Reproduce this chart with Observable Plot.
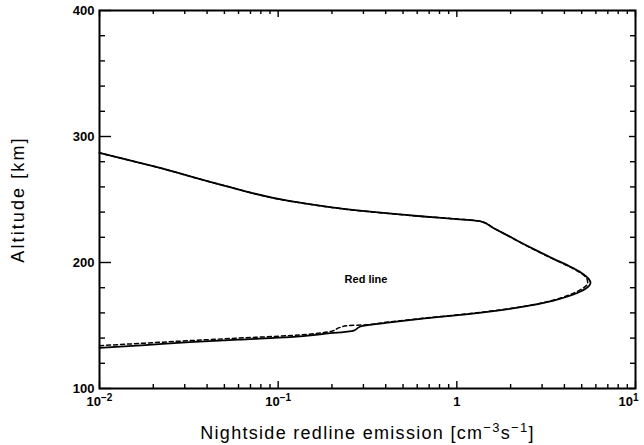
<!DOCTYPE html>
<html>
<head>
<meta charset="utf-8">
<script src="https://cdn.jsdelivr.net/npm/d3@7"></script>
<script src="https://cdn.jsdelivr.net/npm/@observablehq/plot@0.6"></script>
<style>
  html, body { margin: 0; padding: 0; background: #fff; }
  svg { display: block; }
  .xlab text { letter-spacing: 1.3px; }
  .ylab text { letter-spacing: 2.1px; }
</style>
</head>
<body>
<div id="chart"></div>
<script>
// Solid profile (lower branch up to peak, then upper branch)
const solidAltitude = [132.3, 134.5, 136.8, 138.8, 140.7, 143.3, 146.0, 149.2, 152.0, 155.3, 159.3, 164.5, 169.8, 174.6, 179.1, 183.9, 187.0, 192.3, 197.5, 202.9, 210.0, 217.5, 220.2, 222.7, 227.4, 232.7, 234.5, 236.5, 241.3, 248.7, 261.1, 275.6, 287.0];
const solidEmission = [0.01, 0.018, 0.032, 0.06, 0.117, 0.18, 0.265, 0.289, 0.4, 0.625, 1.19, 2.27, 3.48, 4.5, 5.25, 5.6, 5.47, 4.92, 4.2, 3.48, 2.75, 2.17, 2.0, 1.85, 1.6, 1.36, 1.0, 0.65, 0.277, 0.117, 0.0497, 0.021, 0.01];
// Dashed profile
const dashedAltitude = [134.0, 136.0, 138.0, 140.0, 142.0, 145.5, 148.5, 150.0, 150.4, 152.5, 155.5, 159.5, 164.5, 169.5, 174.5, 179.0, 183.5, 187.0, 192.3, 197.5, 202.9, 210.0, 217.5, 220.2, 222.7, 227.4, 232.7, 234.5, 236.5, 241.3, 248.7, 261.1, 275.6, 287.0];
const dashedEmission = [0.01, 0.018, 0.032, 0.06, 0.117, 0.2, 0.222, 0.25, 0.3, 0.4, 0.625, 1.19, 2.22, 3.35, 4.3, 5.0, 5.4, 5.35, 4.85, 4.15, 3.45, 2.73, 2.16, 2.0, 1.85, 1.6, 1.36, 1.0, 0.65, 0.277, 0.117, 0.0497, 0.021, 0.01];

const xMajorTicks = [0.01, 0.1, 1, 10];
const xTickBase = ["10", "10", "1", "10"];
const xTickExp = ["\u22122", "\u22121", "", "1"];
const xMinorTicks = [2,3,4,5,6,7,8,9].flatMap(m => [0.01, 0.1, 1].map(d => m * d));
const yMajorTicks = [100, 200, 300, 400];
const yMinorTicks = [120, 140, 160, 180, 220, 240, 260, 280, 320, 340, 360, 380];
const annotation = [{x: 0.31, y: 186.5, text: "Red line"}];
const xLabelParts = ["Nightside redline emission [cm", "\u22123", "s", "\u22121", "]"];
const yLabel = "Altitude [km]";

const solid = solidAltitude.map((a, i) => ({alt: a, em: solidEmission[i]}));
const dashed = dashedAltitude.map((a, i) => ({alt: a, em: dashedEmission[i]}));

const W = 644, H = 445;
const mL = 99, mR = 9, mT = 10, mB = 57;
const pw = W - mL - mR, ph = H - mT - mB;
const font = "'Liberation Sans', Arial, Helvetica, sans-serif";

const chart = Plot.plot({
  width: W, height: H,
  marginLeft: mL, marginRight: mR, marginTop: mT, marginBottom: mB,
  style: {fontFamily: font, fontSize: "13px", color: "#000", background: "#fff"},
  x: {type: "log", domain: [0.01, 10]},
  y: {domain: [100, 400]},
  marks: [
    Plot.tickX(xMajorTicks, {x: d => d, insetTop: ph - 7, stroke: "#000", strokeWidth: 1.4}),
    Plot.tickX(xMinorTicks, {x: d => d, insetTop: ph - 4, stroke: "#000", strokeWidth: 1.4}),
    Plot.tickX(xMajorTicks, {x: d => d, insetBottom: ph - 7, stroke: "#000", strokeWidth: 1.4}),
    Plot.tickX(xMinorTicks, {x: d => d, insetBottom: ph - 4, stroke: "#000", strokeWidth: 1.4}),
    Plot.tickY(yMajorTicks, {y: d => d, insetRight: pw - 12, stroke: "#000", strokeWidth: 1.4}),
    Plot.tickY(yMinorTicks, {y: d => d, insetRight: pw - 6, stroke: "#000", strokeWidth: 1.4}),
    Plot.tickY(yMajorTicks, {y: d => d, insetLeft: pw - 6, stroke: "#000", strokeWidth: 1.4}),
    Plot.tickY(yMinorTicks, {y: d => d, insetLeft: pw - 5, stroke: "#000", strokeWidth: 1.4}),
    Plot.line(dashed, {x: "em", y: "alt", stroke: "#000", strokeWidth: 1.5, strokeDasharray: "4,3", curve: "monotone-y"}),
    Plot.line(solid, {x: "em", y: "alt", stroke: "#000", strokeWidth: 1.8, curve: "monotone-y"}),
    Plot.frame({stroke: "#000", strokeWidth: 2}),
    Plot.axisX({ticks: xMajorTicks, tickSize: 0, tickPadding: 8, tickFormat: d => String(xMajorTicks.indexOf(d)), fontWeight: "bold", fontSize: 13, label: null, className: "xticks"}),
    Plot.axisY({ticks: yMajorTicks, tickSize: 0, tickPadding: 5, fontWeight: "bold", fontSize: 13, label: null}),
    Plot.text([xLabelParts.join("")], {text: d => d, frameAnchor: "bottom", dy: 45, fontSize: 18, lineAnchor: "middle", fill: "#000", className: "xlab"}),
    Plot.text([yLabel], {text: d => d, frameAnchor: "left", textAnchor: "middle", dx: -81, rotate: -90, fontSize: 18, lineAnchor: "middle", fill: "#000", className: "ylab"}),
    Plot.text(annotation, {x: "x", y: "y", text: "text", fontWeight: "bold", fontSize: 11, fill: "#000"})
  ]
});

// Superscript tick labels: 10^n
d3.select(chart).selectAll(".xticks text").each(function () {
  const i = +this.textContent;
  const t = d3.select(this);
  t.text(null);
  const base = t.append("tspan").text(xTickBase[i]);
  if (i === xTickBase.length - 1) base.attr("dx", "-7");
  if (xTickExp[i]) t.append("tspan").attr("dy", "-5").attr("font-size", "10px").text(xTickExp[i]);
});
// Superscripts in x label
d3.select(chart).selectAll(".xlab text").each(function () {
  const t = d3.select(this);
  t.text(null);
  t.append("tspan").text(xLabelParts[0]);
  t.append("tspan").attr("dy", "-7").attr("font-size", "13px").text(xLabelParts[1]);
  t.append("tspan").attr("dy", "7").text(xLabelParts[2]);
  t.append("tspan").attr("dy", "-7").attr("font-size", "13px").text(xLabelParts[3]);
  t.append("tspan").attr("dy", "7").text(xLabelParts[4]);
});
document.getElementById("chart").appendChild(chart);
</script>
</body>
</html>
